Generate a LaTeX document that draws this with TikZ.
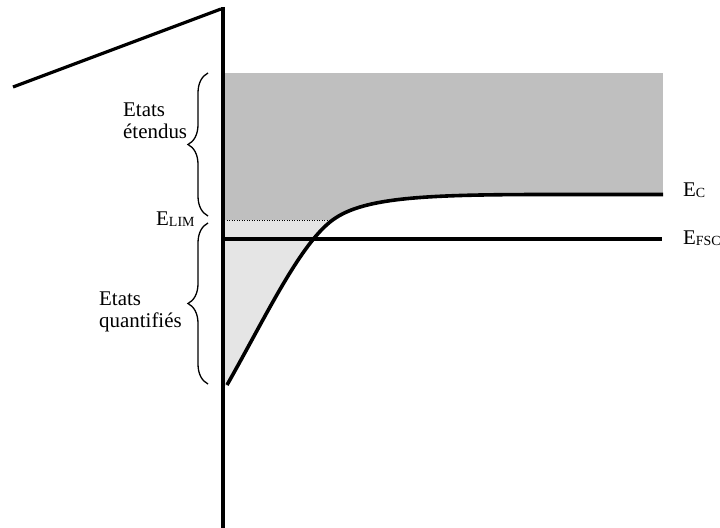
\documentclass[tikz,border=0pt]{standalone}
\usepackage{fontspec}
\setmainfont{Liberation Serif}
\usetikzlibrary{decorations.pathreplacing}
\begin{document}
\begin{tikzpicture}[x=1bp,y=-1bp,
  lbl/.style={font=\fontsize{21}{22}\selectfont, inner sep=0pt, align=left},
  thickline/.style={line width=3.2bp},
  bracestyle/.style={decorate, decoration={brace, amplitude=20bp}, line width=1.3bp}]
\useasboundingbox (0,0) rectangle (720,528);
% coordinates
\coordinate (dtop) at (224,73);
\coordinate (dright) at (663,220);
\coordinate (ltl) at (224,220);
\coordinate (lbr) at (345,386);
\coordinate (diagA) at (13,87);
\coordinate (diagB) at (221,9);
\coordinate (vtop) at (223,7);
\coordinate (vbot) at (223,528);
\coordinate (fA) at (224,239);
\coordinate (fB) at (662,239);
\coordinate (dotA) at (224,220);
\coordinate (dotB) at (332,220);
\coordinate (b1a) at (208,216);
\coordinate (b1b) at (208,73);
\coordinate (b2a) at (208,384);
\coordinate (b2b) at (208,223);
\coordinate (cS) at (227,385);
\coordinate (cM) at (330,222);
\coordinate (cK) at (550,194.5);
\coordinate (cE) at (663,194.5);
% fills
\fill[black!25] (dtop) rectangle (dright);
\fill[black!10] (ltl) rectangle (lbr);
\fill[white] (cS) .. controls (265,318) and (298,248) .. (cM) .. controls (360,197.6) and (420,194.5) .. (cK) -- (cE) -- (663,400) -- (224,400) -- cycle;
% dotted level
\draw[line width=0.9bp, dash pattern=on 1bp off 1.5bp] (dotA) -- (dotB);
% lines
\draw[thickline] (diagA) -- (diagB);
\draw[line width=4.2bp] (vtop) -- (vbot);
\draw[thickline] (fA) -- (fB);
\draw[line width=3.6bp] (cS) .. controls (265,318) and (298,248) .. (cM) .. controls (360,197.6) and (420,194.5) .. (cK) -- (cE);
% braces
\draw[bracestyle] (b1a) -- (b1b);
\draw[bracestyle] (b2a) -- (b2b);
% labels
\node[lbl, anchor=base west] (et1) at (123,117) {Etats};
\node[lbl, anchor=base west] (et2) at (123,139) {étendus};
\node[lbl, anchor=base west] (eq1) at (99,305) {Etats};
\node[lbl, anchor=base west] (eq2) at (99,327) {quantifiés};
\node[lbl, anchor=base west] (elim) at (156,226) {E\raisebox{-1bp}{\fontsize{14}{14}\selectfont LIM}};
\node[lbl, anchor=base west] (ec) at (683,197) {E\raisebox{-1bp}{\fontsize{14}{14}\selectfont C}};
\node[lbl, anchor=base west] (efsc) at (683,245) {E\raisebox{-1bp}{\fontsize{14}{14}\selectfont FSC}};
\end{tikzpicture}
\end{document}
